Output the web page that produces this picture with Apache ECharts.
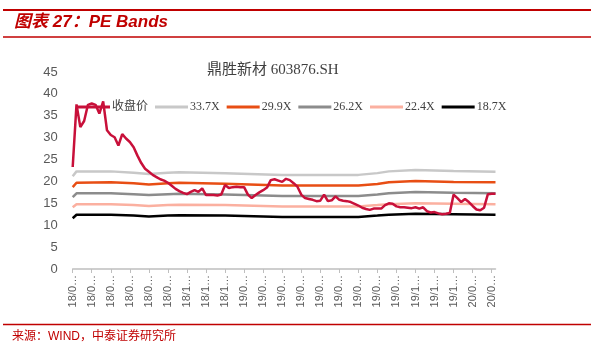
<!DOCTYPE html>
<html>
<head>
<meta charset="utf-8">
<script src="https://cdn.jsdelivr.net/npm/echarts@6/dist/echarts.min.js"></script>
<style>
html,body{margin:0;padding:0;background:#fff;}
#chart{width:594px;height:356px;}
</style>
</head>
<body>
<div id="chart"></div>
<script>
// Category dates (every label shows truncated as "yy/m…")
const categories = [
'18/04/20','18/04/26','18/05/02','18/05/08','18/05/14','18/05/20','18/05/26','18/06/01','18/06/07','18/06/13',
'18/06/19','18/06/25','18/07/01','18/07/07','18/07/13','18/07/19','18/07/25','18/07/31','18/08/06','18/08/12',
'18/08/18','18/08/24','18/08/30','18/09/05','18/09/11','18/09/17','18/09/23','18/09/29','18/10/05','18/10/11',
'18/10/17','18/10/23','18/10/29','18/11/04','18/11/10','18/11/16','18/11/22','18/11/28','18/12/04','18/12/10',
'18/12/16','18/12/22','18/12/28','19/01/03','19/01/09','19/01/15','19/01/21','19/01/27','19/02/02','19/02/08',
'19/02/14','19/02/20','19/02/26','19/03/04','19/03/10','19/03/16','19/03/22','19/03/28','19/04/03','19/04/09',
'19/04/15','19/04/21','19/04/27','19/05/03','19/05/09','19/05/15','19/05/21','19/05/27','19/06/02','19/06/08',
'19/06/14','19/06/20','19/06/26','19/07/02','19/07/08','19/07/14','19/07/20','19/07/26','19/08/01','19/08/07',
'19/08/13','19/08/19','19/08/25','19/08/31','19/09/06','19/09/12','19/09/18','19/09/24','19/09/30','19/10/06',
'19/10/12','19/10/18','19/10/24','19/10/30','19/11/05','19/11/11','19/11/17','19/11/23','19/11/29','19/12/05',
'19/12/11','19/12/17','19/12/23','19/12/29','20/01/04','20/01/10','20/01/16','20/01/22','20/01/28','20/02/03',
'20/02/09','20/02/15'
];

// 收盘价 (closing price)
const closePrice = [
23.3,37.6,32.4,33.8,37.5,37.8,37.5,35.5,38.3,31.7,
30.6,30.1,28.2,30.8,29.8,29.0,27.8,25.9,24.2,22.9,
22.2,21.5,21.0,20.5,20.2,19.7,19.0,18.3,17.8,17.4,
17.1,17.6,18.0,17.6,18.4,16.9,16.9,16.9,16.8,17.0,
19.2,18.5,18.7,18.8,18.7,18.7,17.0,16.2,16.9,17.5,
18.0,18.6,20.3,20.5,20.2,19.9,20.6,20.3,19.6,18.8,
17.0,16.2,16.0,15.8,15.5,15.6,17.0,15.5,15.7,16.6,
15.8,15.6,15.5,15.3,14.9,14.5,14.0,13.7,13.5,13.8,
13.8,13.8,14.6,15.0,14.9,14.3,14.1,14.1,14.0,13.9,
14.1,13.8,14.1,13.2,12.9,13.0,12.7,12.5,12.6,12.8,
17.0,16.2,15.3,16.0,15.3,14.4,13.6,13.4,14.0,17.1,
17.2,17.2
];

// PE bands: [category index, value] vertices
const band337 = [[0,21.2],[1,22.3],[10,22.3],[16,22.0],[20,21.7],[25,22.0],[28,22.1],[40,21.9],[55,21.5],[75,21.5],[80,21.9],[83,22.3],[90,22.6],[100,22.4],[111,22.2]];
const band299 = [[0,18.7],[1,19.7],[10,19.8],[16,19.6],[20,19.3],[25,19.6],[28,19.7],[40,19.5],[55,19.1],[75,19.1],[80,19.4],[83,19.8],[90,20.1],[100,19.9],[111,19.8]];
const band262 = [[0,16.4],[1,17.3],[10,17.3],[16,17.1],[20,16.9],[25,17.1],[28,17.2],[40,17.0],[55,16.7],[75,16.7],[80,17.0],[83,17.3],[90,17.6],[100,17.4],[111,17.3]];
const band224 = [[0,14.1],[1,14.8],[10,14.8],[16,14.6],[20,14.4],[25,14.6],[28,14.7],[40,14.6],[55,14.3],[75,14.3],[80,14.6],[83,14.8],[90,15.0],[100,14.9],[111,14.8]];
const band187 = [[0,11.6],[1,12.4],[10,12.4],[16,12.2],[20,12.0],[25,12.2],[28,12.3],[40,12.2],[55,11.9],[75,11.9],[80,12.2],[83,12.4],[90,12.6],[100,12.5],[111,12.4]];

const seriesNames = ['收盘价','33.7X','29.9X','26.2X','22.4X','18.7X'];
const seriesColors = ['#C8103A','#C8C8C8','#E84E14','#8C8C8C','#FBB0A0','#000000'];
const yTicks = {min:0, max:45, interval:5};

const chart = echarts.init(document.getElementById('chart'), null, {renderer:'canvas'});

function bandSeries(idx, data){
  return {
    name: seriesNames[idx], type:'line', data:data, symbol:'none', z: 2,
    lineStyle:{color:seriesColors[idx], width:2.5}, itemStyle:{color:seriesColors[idx]},
    animation:false
  };
}

const option = {
  animation:false,
  backgroundColor:'#fff',
  title:{
    text:'鼎胜新材 603876.SH', left:202, top:58,
    textStyle:{fontFamily:'"Liberation Serif","Times New Roman","Noto Sans CJK SC",serif', fontSize:15, fontWeight:'normal', color:'#404040'}
  },
  legend:{
    data:seriesNames, left:72, top:96, icon:'rect', itemWidth:33, itemHeight:3, itemGap:7,
    textStyle:{fontFamily:'"Liberation Serif","Times New Roman","Noto Sans CJK SC",serif', fontSize:12, color:'#404040', padding:[0,0,0,-3]}
  },
  grid:{left:72.7, right:98.5, top:72, bottom:87, containLabel:false},
  xAxis:{
    type:'category', data:categories, boundaryGap:false,
    axisLine:{lineStyle:{color:'#BFBFBF', width:1.5}},
    axisTick:{show:true, interval:4, length:4, lineStyle:{color:'#BFBFBF'}},
    axisLabel:{
      interval:4, rotate:90, margin:6, fontSize:11, color:'#595959',
      fontFamily:'"Liberation Sans",Arial,sans-serif',
      formatter:function(v){return v.slice(0,4)+'…';}
    },
    splitLine:{show:false}
  },
  yAxis:{
    type:'value', min:yTicks.min, max:yTicks.max, interval:yTicks.interval,
    axisLine:{show:false}, axisTick:{show:false}, splitLine:{show:false},
    axisLabel:{fontSize:13, color:'#595959', margin:15, fontFamily:'"Liberation Sans",Arial,sans-serif'}
  },
  series:[
    bandSeries(1, band337),
    bandSeries(2, band299),
    bandSeries(3, band262),
    bandSeries(4, band224),
    bandSeries(5, band187),
    {
      name:seriesNames[0], type:'line', data:closePrice, symbol:'none', z:3,
      lineStyle:{color:seriesColors[0], width:2.5}, itemStyle:{color:seriesColors[0]}
    }
  ],
  graphic:[
    {type:'line', shape:{x1:3,y1:10,x2:591,y2:10}, style:{stroke:'#C00000', lineWidth:2}},
    {type:'text', left:14, top:14, style:{text:'图表 27：PE Bands', fill:'#C00000', fontSize:17, fontWeight:'bold', fontStyle:'italic', fontFamily:'Arial,"Liberation Sans","Noto Sans CJK SC",sans-serif'}},
    {type:'line', shape:{x1:3,y1:37,x2:591,y2:37}, style:{stroke:'#C00000', lineWidth:1.5}},
    {type:'line', shape:{x1:3,y1:324.5,x2:591,y2:324.5}, style:{stroke:'#C00000', lineWidth:1.5}},
    {type:'text', left:12, top:331, style:{text:'来源：WIND，中泰证券研究所', fill:'#C00000', fontSize:12, fontFamily:'"Liberation Sans","Noto Sans CJK SC",sans-serif'}}
  ]
};
chart.setOption(option);
</script>
</body>
</html>
